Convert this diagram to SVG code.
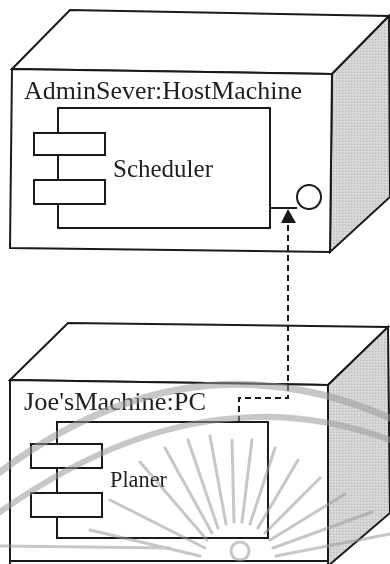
<svg xmlns="http://www.w3.org/2000/svg" width="390" height="564" viewBox="0 0 390 564">
  <style>
    .edge { fill: none; stroke: #1a1a1a; stroke-width: 2; stroke-linejoin: miter; }
    .face { fill: #ffffff; stroke: #1a1a1a; stroke-width: 2; }
    .side { fill: #cdcdcd; stroke: #1a1a1a; stroke-width: 2; }
    .part { fill: #ffffff; stroke: #1a1a1a; stroke-width: 2; }
    .label { font-family: "Liberation Serif", "Times New Roman", serif; fill: #1f1f1f; }
    .dep { fill: none; stroke: #1a1a1a; stroke-width: 2; stroke-dasharray: 6 4; }
    .mark { fill: none; stroke: #9a9a9a; stroke-linecap: round; mix-blend-mode: multiply; }
  </style>
  <defs>
    <pattern id="grain" width="3" height="3" patternUnits="userSpaceOnUse">
      <rect width="3" height="3" fill="#d4d4d4"/>
      <rect width="1" height="1" fill="#b8b8b8"/>
      <rect x="2" y="1" width="1" height="1" fill="#e2e2e2"/>
    </pattern>
  </defs>
  <rect width="390" height="564" fill="#ffffff"/>

  <!-- server node -->
  <g id="node-adminsever">
    <polygon class="face" points="12,69 70,10 389,16 332,74"/>
    <polygon class="side" fill="url(#grain)" style="fill:url(#grain)" points="332,74 389,16 390,197 330,252"/>
    <polygon class="face" points="12,69 332,74 330,252 10,248"/>
    <text class="label" x="24" y="99" font-size="26" textLength="278" lengthAdjust="spacingAndGlyphs">AdminSever:HostMachine</text>
  </g>

  <!-- scheduler component -->
  <g id="comp-scheduler">
    <rect class="part" x="58" y="108" width="212" height="120"/>
    <rect class="part" x="34" y="133" width="71" height="22"/>
    <rect class="part" x="34" y="180" width="71" height="24"/>
    <text class="label" x="113" y="177" font-size="25" textLength="100" lengthAdjust="spacingAndGlyphs">Scheduler</text>
    <line class="edge" x1="270" y1="208" x2="297" y2="208"/>
    <circle class="part" cx="309" cy="197" r="12"/>
  </g>

  <!-- client node -->
  <g id="node-joesmachine">
    <polygon class="face" points="10,380 68,323 388,327 328,385"/>
    <polygon class="side" style="fill:url(#grain)" points="328,385 388,327 390,513 328,566"/>
    <polygon class="face" points="10,380 328,385 328,566 10,566"/>
    <line class="edge" x1="10" y1="561" x2="328" y2="561"/>
    <text class="label" x="24" y="410" font-size="26" textLength="182" lengthAdjust="spacingAndGlyphs">Joe'sMachine:PC</text>
  </g>

  <!-- planer component -->
  <g id="comp-planer">
    <rect class="part" x="57" y="422" width="211" height="116"/>
    <rect class="part" x="31" y="444" width="71" height="24"/>
    <rect class="part" x="31" y="493" width="71" height="24"/>
    <text class="label" x="110" y="487" font-size="24" textLength="57" lengthAdjust="spacingAndGlyphs">Planer</text>
  </g>

  <!-- dependency: planer uses scheduler interface -->
  <g id="connectors">
    <polyline class="dep" points="239,422 239,398 288,398 288,223"/>
    <polygon points="288,209 281,223 296,223" fill="#1a1a1a"/>
  </g>

  <!-- faint seal printed across the lower half -->
  <g id="seal" opacity="0.55">
    <path class="mark" stroke-width="7" d="M0,472 Q190,330 390,418"/>
    <path class="mark" stroke-width="6" d="M0,512 Q200,370 390,440"/>
    <g class="mark" stroke-width="3">
      <line x1="205" y1="548" x2="110" y2="500"/>
      <line x1="207" y1="540" x2="140" y2="462"/>
      <line x1="212" y1="533" x2="165" y2="448"/>
      <line x1="218" y1="528" x2="188" y2="440"/>
      <line x1="226" y1="524" x2="210" y2="436"/>
      <line x1="234" y1="522" x2="232" y2="440"/>
      <line x1="242" y1="522" x2="252" y2="440"/>
      <line x1="250" y1="524" x2="275" y2="448"/>
      <line x1="258" y1="528" x2="298" y2="460"/>
      <line x1="265" y1="533" x2="320" y2="478"/>
      <line x1="270" y1="540" x2="345" y2="494"/>
      <line x1="273" y1="548" x2="372" y2="512"/>
      <line x1="200" y1="556" x2="90" y2="530"/>
      <line x1="276" y1="556" x2="390" y2="534"/>
      <line x1="0" y1="546" x2="170" y2="548"/>
    </g>
    <circle class="mark" stroke-width="3" cx="240" cy="551" r="9"/>
  </g>
</svg>
